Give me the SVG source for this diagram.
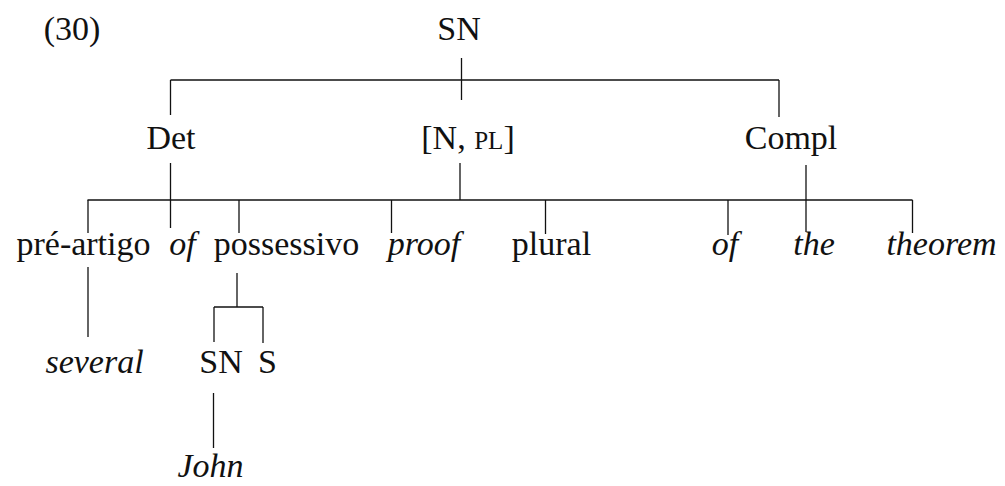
<svg xmlns="http://www.w3.org/2000/svg" width="1005" height="486" viewBox="0 0 1005 486">
<style>
text{font-family:"Liberation Serif","Times New Roman",serif;font-size:34px;fill:#111;text-anchor:middle}
.it{font-style:italic}
.sc{font-size:25px}
#connectors line{stroke:#111;stroke-width:1.3}
</style>
<rect width="1005" height="486" fill="#fff"/>
<g id="connectors">
<line x1="461.5" y1="58" x2="461.5" y2="100"/>
<line x1="170.5" y1="80" x2="779" y2="80"/>
<line x1="170.5" y1="80" x2="170.5" y2="115"/>
<line x1="779" y1="80" x2="779" y2="117"/>
<line x1="170.5" y1="163" x2="170.5" y2="228"/>
<line x1="460" y1="163" x2="460" y2="200"/>
<line x1="806" y1="165" x2="806" y2="232"/>
<line x1="87.5" y1="200" x2="912.5" y2="200"/>
<line x1="88" y1="200" x2="88" y2="233"/>
<line x1="239" y1="200" x2="239" y2="233"/>
<line x1="391.5" y1="200" x2="391.5" y2="233"/>
<line x1="545.5" y1="200" x2="545.5" y2="234"/>
<line x1="728" y1="200" x2="728" y2="235"/>
<line x1="912.5" y1="200" x2="912.5" y2="233"/>
<line x1="88" y1="267" x2="88" y2="337"/>
<line x1="237" y1="273" x2="237" y2="307"/>
<line x1="214" y1="307" x2="263" y2="307"/>
<line x1="214" y1="307" x2="214" y2="342"/>
<line x1="263" y1="307" x2="263" y2="343"/>
<line x1="213.5" y1="393" x2="213.5" y2="448"/>
</g>
<g id="label"><text x="72" y="40">(30)</text></g>
<g id="n-sn-root"><text x="459" y="40">SN</text></g>
<g id="n-det"><text x="171" y="149">Det</text></g>
<g id="n-npl"><text x="468" y="149">[N, <tspan class="sc">PL</tspan>]</text></g>
<g id="n-compl"><text x="791" y="149">Compl</text></g>
<g id="n-preartigo"><text x="83.5" y="255">pré-artigo</text></g>
<g id="n-of1"><text class="it" x="182.5" y="255">of</text></g>
<g id="n-possessivo"><text x="286.5" y="255">possessivo</text></g>
<g id="n-proof"><text class="it" x="424" y="255">proof</text></g>
<g id="n-plural"><text x="551.5" y="255">plural</text></g>
<g id="n-of2"><text class="it" x="725" y="255">of</text></g>
<g id="n-the"><text class="it" x="814" y="255">the</text></g>
<g id="n-theorem"><text class="it" x="941.5" y="255">theorem</text></g>
<g id="n-several"><text class="it" x="94.5" y="373">several</text></g>
<g id="n-sn2"><text x="221" y="373">SN</text></g>
<g id="n-s"><text x="267.5" y="373">S</text></g>
<g id="n-john"><text class="it" x="210.5" y="477">John</text></g>
</svg>
